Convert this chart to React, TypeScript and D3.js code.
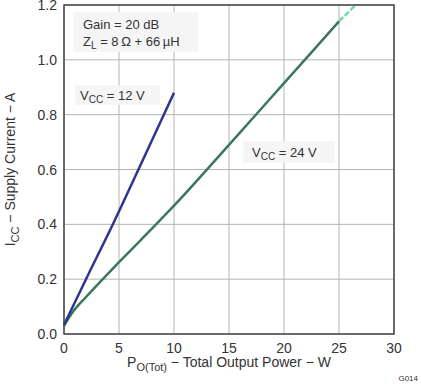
import React, { useEffect, useRef } from 'react';
import * as d3 from 'd3';

// supply current vs total output power
const power12 = [0, 2, 4.5, 7, 10];
const current12 = [0.033, 0.2, 0.405, 0.62, 0.88];
const power24 = [0, 0.8, 2, 3.4, 5, 8.5, 10, 15, 20, 25];
const current24 = [0.03, 0.08, 0.135, 0.195, 0.262, 0.405, 0.468, 0.69, 0.915, 1.14];
const power24ext = [25, 26.5];
const current24ext = [1.14, 1.2];
const xTicks = [0, 5, 10, 15, 20, 25, 30];
const yTicks = [0, 0.2, 0.4, 0.6, 0.8, 1.0, 1.2];

function App() {
  const ref = useRef<SVGSVGElement>(null);

  useEffect(() => {
    const svg = d3.select(ref.current);
    svg.selectAll('*').remove();

    const width = 421, height = 384;
    const margin = { top: 5, right: 27, bottom: 50, left: 64 };
    const font = '"Liberation Sans", Arial, sans-serif';
    const txt = '#333';

    svg.attr('width', width).attr('height', height)
      .style('position', 'absolute').style('left', '0px').style('top', '0px');

    const x = d3.scaleLinear().domain([0, 30]).range([margin.left, width - margin.right]);
    const y = d3.scaleLinear().domain([0, 1.2]).range([height - margin.bottom, margin.top]);

    // grid
    svg.append('g').selectAll('line').data(xTicks).enter().append('line')
      .attr('x1', d => x(d)).attr('x2', d => x(d))
      .attr('y1', y(0)).attr('y2', y(1.2))
      .attr('stroke', '#b4b4b4').attr('stroke-width', 1);
    svg.append('g').selectAll('line').data(yTicks).enter().append('line')
      .attr('x1', x(0)).attr('x2', x(30))
      .attr('y1', d => y(d)).attr('y2', d => y(d))
      .attr('stroke', '#b4b4b4').attr('stroke-width', 1);

    // annotation boxes
    const boxes = [
      { x: 73, y: 12, w: 125, h: 40 },
      { x: 75, y: 85, w: 85, h: 20 },
      { x: 243, y: 141, w: 92, h: 22 },
    ];
    svg.append('g').selectAll('rect').data(boxes).enter().append('rect')
      .attr('x', d => d.x).attr('y', d => d.y).attr('width', d => d.w).attr('height', d => d.h)
      .attr('fill', '#f5f5f5');

    const line = d3.line<[number, number]>()
      .x(d => x(d[0])).y(d => y(d[1]))
      .curve(d3.curveMonotoneX);

    svg.append('path')
      .datum(d3.zip(power24, current24) as [number, number][])
      .attr('d', line).attr('fill', 'none')
      .attr('stroke', '#3b775a').attr('stroke-width', 2.5);
    svg.append('path')
      .datum(d3.zip(power24ext, current24ext) as [number, number][])
      .attr('d', line).attr('fill', 'none')
      .attr('stroke', '#78d8ac').attr('stroke-width', 2.5).attr('stroke-dasharray', '6,2');
    svg.append('path')
      .datum(d3.zip(power12, current12) as [number, number][])
      .attr('d', line).attr('fill', 'none')
      .attr('stroke', '#2e3492').attr('stroke-width', 2.5);

    // frame
    svg.append('rect')
      .attr('x', x(0)).attr('y', y(1.2))
      .attr('width', x(30) - x(0)).attr('height', y(0) - y(1.2))
      .attr('fill', 'none').attr('stroke', '#444').attr('stroke-width', 1.5);

    // tick labels
    svg.append('g').selectAll('text').data(xTicks).enter().append('text')
      .attr('x', d => x(d)).attr('y', y(0) + 19)
      .attr('text-anchor', 'middle')
      .attr('font-family', font).attr('font-size', 14).attr('fill', txt)
      .text(d => d);
    svg.append('g').selectAll('text').data(yTicks).enter().append('text')
      .attr('x', x(0) - 7).attr('y', d => y(d) + 5)
      .attr('text-anchor', 'end')
      .attr('font-family', font).attr('font-size', 14).attr('fill', txt)
      .text(d => d.toFixed(1));

    // axis titles
    const xt = svg.append('text')
      .attr('x', (x(0) + x(30)) / 2).attr('y', 367)
      .attr('text-anchor', 'middle')
      .attr('font-family', font).attr('font-size', 14).attr('fill', txt);
    xt.append('tspan').text('P');
    xt.append('tspan').attr('dy', 4).attr('font-size', 11).text('O(Tot)');
    xt.append('tspan').attr('dy', -4).text(' \u2212 Total Output Power \u2212 W');

    const yt = svg.append('text')
      .attr('transform', `translate(15,${(y(0) + y(1.2)) / 2}) rotate(-90)`)
      .attr('text-anchor', 'middle')
      .attr('font-family', font).attr('font-size', 14).attr('fill', txt);
    yt.append('tspan').text('I');
    yt.append('tspan').attr('dy', 4).attr('font-size', 11).text('CC');
    yt.append('tspan').attr('dy', -4).text(' \u2212 Supply Current \u2212 A');

    // annotations
    const ann = (ax: number, ay: number) => svg.append('text')
      .attr('x', ax).attr('y', ay)
      .attr('font-family', font).attr('font-size', 13).attr('fill', txt);

    ann(83, 29).text('Gain = 20 dB');
    const zl = ann(83, 46);
    zl.append('tspan').text('Z');
    zl.append('tspan').attr('dy', 3).attr('font-size', 10).text('L');
    zl.append('tspan').attr('dy', -3).text(' = 8\u2009\u03A9 + 66\u2009\u00B5H');

    const v12 = ann(80, 100);
    v12.append('tspan').text('V');
    v12.append('tspan').attr('dy', 3).attr('font-size', 10).text('CC');
    v12.append('tspan').attr('dy', -3).text(' = 12 V');

    const v24 = ann(252, 157);
    v24.append('tspan').text('V');
    v24.append('tspan').attr('dy', 3).attr('font-size', 10).text('CC');
    v24.append('tspan').attr('dy', -3).text(' = 24 V');

    svg.append('text')
      .attr('x', 418).attr('y', 381).attr('text-anchor', 'end')
      .attr('font-family', font).attr('font-size', 8).attr('fill', txt)
      .text('G014');
  }, []);

  return <svg ref={ref}></svg>;
}

export default App;
